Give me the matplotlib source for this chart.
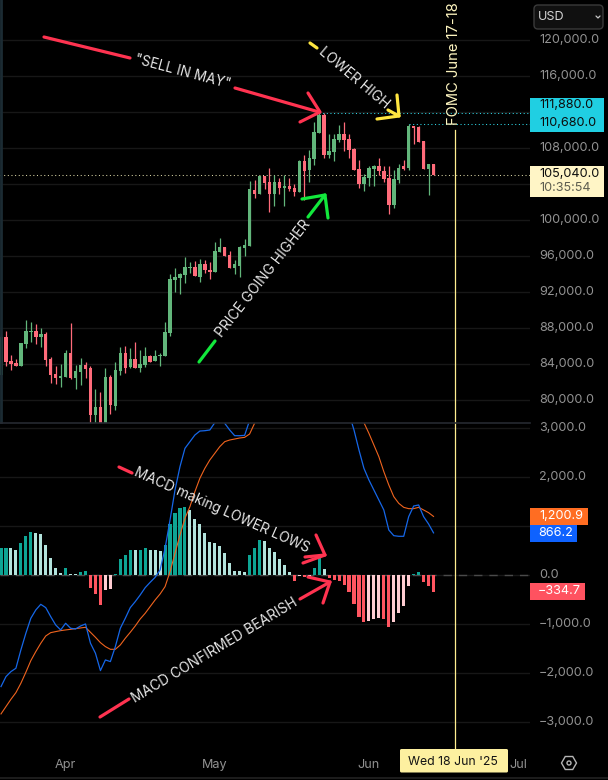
import numpy as np
import matplotlib
matplotlib.use('Agg')
import matplotlib.pyplot as plt
from matplotlib.patches import Rectangle, FancyBboxPatch, RegularPolygon, Circle
from matplotlib.transforms import ScaledTranslation

plt.rcParams['font.family'] = ['Inter', 'DejaVu Sans']

# daily candles
opens = [82820, 87000, 84370, 84110, 83850, 86260, 87630, 87700, 87040, 87370,
         84590, 82930, 82480, 82590, 85260, 82480, 83150, 83930, 83590, 78370,
         79260, 77000, 82590, 79370, 83260, 85260, 83700, 84590, 83590, 83930,
         84930, 84370, 84930, 84930, 87480, 93370, 93590, 93930, 94750, 94820,
         93700, 95150, 94480, 94260, 96480, 97040, 96150, 94700, 94930, 96930,
         97150, 103370, 102930, 104930, 104260, 102930, 104260, 103590, 103820, 103590,
         103150, 106630, 105600, 106820, 109710, 111700, 107260, 107600, 108930, 109600,
         109040, 107930, 105710, 104040, 104710, 105710, 106040, 105480, 104710, 101710,
         104480, 106040, 105820, 110480, 110370, 108820, 105710, 106260]
highs = [87260, 87700, 85040, 84560, 86370, 88930, 88700, 88480, 88040, 87590,
         84820, 83820, 84040, 85590, 88590, 83930, 84700, 84260, 83820, 81260,
         80930, 83590, 82820, 84260, 85930, 86040, 85820, 86480, 85590, 85930,
         85040, 85590, 85260, 88700, 94040, 94700, 94150, 95930, 95370, 95480,
         95700, 95590, 95370, 97590, 98040, 97040, 96590, 95590, 97150, 97930,
         104370, 104480, 104930, 104930, 105780, 105040, 104710, 105040, 104710, 104040,
         106710, 107260, 107820, 110930, 111880, 111880, 109600, 109600, 110600, 110930,
         109600, 108040, 106710, 105150, 106040, 106150, 106930, 106040, 106040, 105600,
         106260, 106710, 110680, 110480, 110480, 108820, 106260, 106260]
lows = [82820, 83850, 83370, 83850, 83850, 85780, 86450, 86220, 85930, 83820,
        81930, 81820, 81480, 82590, 82370, 81260, 81700, 82480, 77300, 77300,
        76700, 76700, 78480, 78930, 82820, 83040, 83590, 83590, 83150, 83700,
        84260, 84370, 83820, 84930, 87150, 92040, 91820, 93040, 94150, 93820,
        93150, 94150, 93480, 94260, 96480, 96040, 94700, 94040, 93700, 96040,
        97150, 102480, 102930, 103480, 100970, 101590, 102930, 101590, 103260, 102710,
        103150, 102260, 104260, 106150, 109710, 106890, 106930, 106630, 108710, 107710,
        106930, 105560, 103590, 103260, 103820, 103820, 105040, 104260, 100710, 101370,
        104150, 105600, 105600, 108480, 108710, 105710, 102820, 105040]
closes = [87000, 84260, 84040, 83850, 86370, 87700, 87700, 87040, 87370, 84480,
          82820, 82480, 82700, 85260, 82480, 83260, 83930, 83480, 78370, 79260,
          77000, 82590, 79480, 83370, 85260, 83590, 84590, 83590, 84040, 84930,
          84260, 84930, 85040, 87590, 93480, 93700, 94040, 94820, 94820, 93820,
          95150, 94480, 94260, 96590, 97040, 96040, 94700, 95150, 97040, 97260,
          103480, 102930, 104930, 104150, 102930, 104260, 103590, 103820, 103480, 103150,
          106630, 105480, 106930, 109820, 111700, 107260, 107710, 109040, 109600, 108930,
          107820, 105600, 104040, 104820, 105820, 106040, 105480, 104600, 101710, 104600,
          105820, 105710, 110480, 110260, 108710, 105710, 106260, 105040]

# MACD pane
hist = [555, 560, 555, 517, 660, 802, 884, 864, 843, 619,
        354, 150, 48, 150, 30, 25, 68, 88, -258, -381,
        -605, -299, -279, 27, 333, 415, 520, 510, 515, 558,
        517, 515, 496, 619, 1047, 1272, 1374, 1394, 1333, 1149,
        1047, 864, 680, 660, 598, 456, 252, 88, 85, 68,
        415, 558, 721, 700, 558, 476, 333, 211, 68, -116,
        -14, -34, -30, 150, 354, 129, -54, -95, -116, -197,
        -340, -585, -850, -952, -932, -891, -870, -891, -1054, -952,
        -768, -626, -218, 27, 68, -136, -218, -335]
macd_line = [-2271, -2067, -1965, -1897, -1523, -1183, -877, -707, -592, -660,
             -843, -1013, -1115, -979, -1081, -1095, -1034, -993, -1387, -1591,
             -1945, -1727, -1761, -1455, -1081, -877, -660, -537, -401, -252,
             -143, -41, 109, 551, 1129, 1741, 2217, 2591, 2727, 2863,
             2944, 2951, 2965, 3114, 3237, 3101, 2965, 2849, 2849, 2856,
             3160, 3500, 3900, 4100, 4150, 4150, 4100, 4050, 3950, 3850,
             3900, 3950, 4050, 4300, 4600, 4500, 4350, 4250, 4150, 4000,
             3300, 2965, 2557, 2183, 1945, 1741, 1537, 1333, 925, 809,
             796, 796, 1197, 1414, 1435, 1197, 1047, 866]
signal_line = [-2829, -2679, -2530, -2394, -2203, -1979, -1741, -1557, -1387, -1238,
               -1170, -1149, -1129, -1115, -1102, -1088, -1074, -1061, -1163, -1265,
               -1374, -1455, -1510, -1510, -1421, -1285, -1163, -1034, -891, -775,
               -639, -503, -381, -231, 75, 449, 823, 1163, 1401, 1707,
               1979, 2183, 2353, 2489, 2625, 2727, 2761, 2781, 2802, 2815,
               2883, 3101, 3350, 3500, 3620, 3720, 3800, 3850, 3880, 3880,
               3880, 3890, 3910, 3980, 4100, 4180, 4220, 4230, 4210, 4170,
               4050, 3780, 3450, 3114, 2897, 2659, 2421, 2115, 1843, 1605,
               1469, 1387, 1360, 1360, 1387, 1333, 1278, 1201]

price_ticks = list(range(80000, 124000, 4000))
# these scale labels are hidden behind the price tags in the picture
hidden_price_ticks = [104000, 112000]
macd_ticks = [-3000, -2000, -1000, 0, 1000, 2000, 3000]
macd_tick_labels = ['\u22123,000.0', '\u22122,000.0', '\u22121,000.0', '0.0', '', '2,000.0', '3,000.0']
month_pos = [13, 43, 74, 104]
month_labels = ['Apr', 'May', 'Jun', 'Jul']

last_price = 105040
high_line = 111880
lower_high_line = 110680

BG = '#000000'
GRID = '#171717'
UP = '#62b67b'
DOWN = '#ff6b7a'
TICK = '#929292'
FS = 9.1
W = 608
H = 780


def pane(top, bottom):
    return [0, 1 - bottom / H, 530 / W, (bottom - top) / H]


fig = plt.figure(figsize=(W / 100, H / 100), dpi=100, facecolor=BG)
ax = fig.add_axes(pane(0, 423), facecolor=BG)
ax2 = fig.add_axes(pane(423, 750), facecolor=BG)

x = np.arange(len(closes))
o = np.array(opens)
c = np.array(closes)

# candles
up = c >= o
colors = np.where(up, UP, DOWN)
ax.vlines(x, lows, highs, colors=colors, lw=0.9, zorder=3)
ax.bar(x, np.maximum(np.abs(c - o), 100), bottom=np.minimum(o, c), width=0.7, color=colors, zorder=4)
ax.set_xlim(-0.2, 106.4)
ax.set_ylim(77478, 124481)
ax.hlines(high_line, 64, 106.4, colors='#2fd8e8', lw=0.75, linestyles=(0, (1, 2.5)), zorder=5)
ax.hlines(lower_high_line, 82, 106.4, colors='#2fd8e8', lw=0.75, linestyles=(0, (1, 2.5)), zorder=5)
ax.axhline(last_price, color='#d8d4a4', lw=0.75, ls=(0, (1, 2.5)), zorder=2)
ax.set_yticks(price_ticks)
ax.set_yticklabels(['' if v in hidden_price_ticks else '{:,.1f}'.format(v) for v in price_ticks])
ax.set_xticks([])

# histogram, colour follows sign and direction
prev = np.array([hist[0]] + hist[:-1])
h = np.array(hist)
hist_colors = []
for cur, before in zip(h, prev):
    if cur >= 0:
        hist_colors.append('#0ea594' if cur >= before else '#b2e3dc')
    else:
        hist_colors.append('#ff5560' if cur < before else '#ffcdd2')
ax2.axhline(0, color='#4a4a4a', lw=1, ls=(0, (6, 5)), zorder=1)
ax2.bar(x, hist, width=0.62, color=hist_colors, zorder=2)
ax2.plot(x, signal_line, color='#f0641e', lw=0.8, zorder=3)
ax2.plot(x, macd_line, color='#1667e8', lw=0.9, zorder=4)
ax2.set_xlim(-0.2, 106.4)
ax2.set_ylim(-3565, 3108)
ax2.set_yticks(macd_ticks)
ax2.set_yticklabels(macd_tick_labels)
ax2.set_xticks(month_pos)
ax2.set_xticklabels(month_labels)

for a in (ax, ax2):
    for s in a.spines.values():
        s.set_visible(False)
    a.grid(axis='y', color=GRID, lw=1, zorder=0)
    a.set_axisbelow(True)
    a.yaxis.tick_right()
    a.tick_params(axis='y', length=0, pad=6.5, labelsize=FS, labelcolor=TICK)
    a.tick_params(axis='x', length=0, pad=6.5, labelsize=FS, labelcolor=TICK)
    # scale labels sit a little above their grid lines
    shift = ScaledTranslation(0, 2 / 100, fig.dpi_scale_trans)
    for lab in a.get_yticklabels():
        lab.set_transform(lab.get_transform() + shift)
        lab.set_horizontalalignment('left')

# everything drawn by hand on the chart goes on a pixel overlay
over = fig.add_axes([0, 0, 1, 1])
over.set_xlim(0, W)
over.set_ylim(H, 0)
over.axis('off')
over.patch.set_alpha(0)


def stroke(points, color, lw=2.3):
    xs, ys = zip(*points)
    over.plot(xs, ys, color=color, lw=lw, solid_capstyle='round', solid_joinstyle='round', zorder=6)


def note(label, cx, cy, angle):
    over.text(cx, cy, label, color='#e6e6e6', fontsize=9.9, rotation=angle, rotation_mode='anchor',
              ha='center', va='center', zorder=7)


RED = '#ff3350'
YEL = '#ffe640'
GRN = '#12e83c'

stroke([(44, 37), (130, 58)], RED)
note('"SELL IN MAY"', 183, 72, -15)
stroke([(235, 88), (319, 112)], RED)
stroke([(308, 93), (320, 112), (300, 122)], RED)

stroke([(310, 43), (317, 48)], YEL)
note('LOWER HIGH', 354, 78, -40)
stroke([(397, 95), (399, 116), (377, 119)], YEL)
stroke([(388, 110), (399, 116)], YEL)

stroke([(199, 362), (215, 341)], GRN)
note('PRICE GOING HIGHER', 263, 279, 52)
stroke([(308, 217), (325, 195)], GRN)
stroke([(302, 199), (325, 195), (328, 218)], GRN)

stroke([(119, 467), (132, 473)], RED)
note('MACD making LOWER LOWS', 222, 510, -24)
stroke([(303, 563), (325, 555)], RED)
stroke([(316, 535), (325, 555), (305, 557)], RED)

stroke([(100, 717), (129, 699)], RED)
note('MACD CONFIRMED BEARISH', 215, 650, 31)
stroke([(300, 599), (330, 582)], RED)
stroke([(308, 577), (330, 582), (323, 603)], RED)

# FOMC marker
over.plot([454.5, 454.5], [130, 750], color='#ffee90', lw=0.9, zorder=5)
over.text(453.5, 64, 'FOMC June 17-18', color='#fff6c0', fontsize=10.6, rotation=90,
          ha='center', va='center', zorder=7)

# left edge and pane borders
over.plot([0.5, 0.5], [0, 422], color='#1b2b33', lw=2, zorder=1)
over.plot([0, 530], [422.5, 422.5], color='#262a31', lw=1.2, zorder=6)
over.plot([0, 608], [777.5, 777.5], color='#222222', lw=1.2, zorder=6)


def tag(x0, y0, x1, y1, color):
    over.add_patch(Rectangle((x0, y0), x1 - x0, y1 - y0, facecolor=color, edgecolor='none', zorder=8))


tag(530, 98, 604, 132, '#20cfe2')
over.text(539, 105.5, '111,880.0', color='#0c0c0c', fontsize=FS, va='center', zorder=9)
over.text(539, 122.5, '110,680.0', color='#0c0c0c', fontsize=FS, va='center', zorder=9)

tag(530, 166, 604, 197, '#fff5c6')
over.text(539, 174, '105,040.0', color='#0c0c0c', fontsize=FS, va='center', zorder=9)
over.text(539, 188, '10:35:54', color='#5e5e50', fontsize=FS, va='center', zorder=9)

tag(530, 508, 588, 525, '#ff6d22')
over.text(539, 516, '1,200.9', color='#ffffff', fontsize=FS, va='center', zorder=9)
tag(530, 525, 577, 542, '#0e62ff')
over.text(538, 533.5, '866.2', color='#ffffff', fontsize=FS, va='center', zorder=9)
tag(530, 583, 585, 600, '#ff5260')
over.text(538, 591.5, '\u2212334.7', color='#ffffff', fontsize=FS, va='center', zorder=9)

# currency button
over.add_patch(FancyBboxPatch((534, 5), 69, 24, boxstyle='round,pad=0,rounding_size=4',
                              facecolor='#101010', edgecolor='#3a3a3a', lw=1, zorder=8))
over.text(538, 16.5, 'USD', color='#d4d4d4', fontsize=FS, va='center', zorder=9)
stroke([(596, 16), (598, 18), (600, 16)], '#c8c8c8', lw=0.9)
over.lines[-1].set_zorder(9)

# crosshair date
over.add_patch(FancyBboxPatch((400, 749), 108, 23.5, boxstyle='round,pad=0,rounding_size=1.5',
                              facecolor='#fdf0a0', edgecolor='none', zorder=8))
over.text(453, 762, "Wed 18 Jun '25", color='#141414', fontsize=8.8, ha='center', va='center', zorder=9)

# settings icon
over.add_patch(RegularPolygon((569, 763), 6, radius=7.5, orientation=np.pi / 6, facecolor='none',
                              edgecolor='#b5b5b5', lw=1, zorder=8))
over.add_patch(Circle((569, 763), 2, facecolor='none', edgecolor='#b5b5b5', lw=1, zorder=8))

fig.savefig('out.png', dpi=100, facecolor=BG)
